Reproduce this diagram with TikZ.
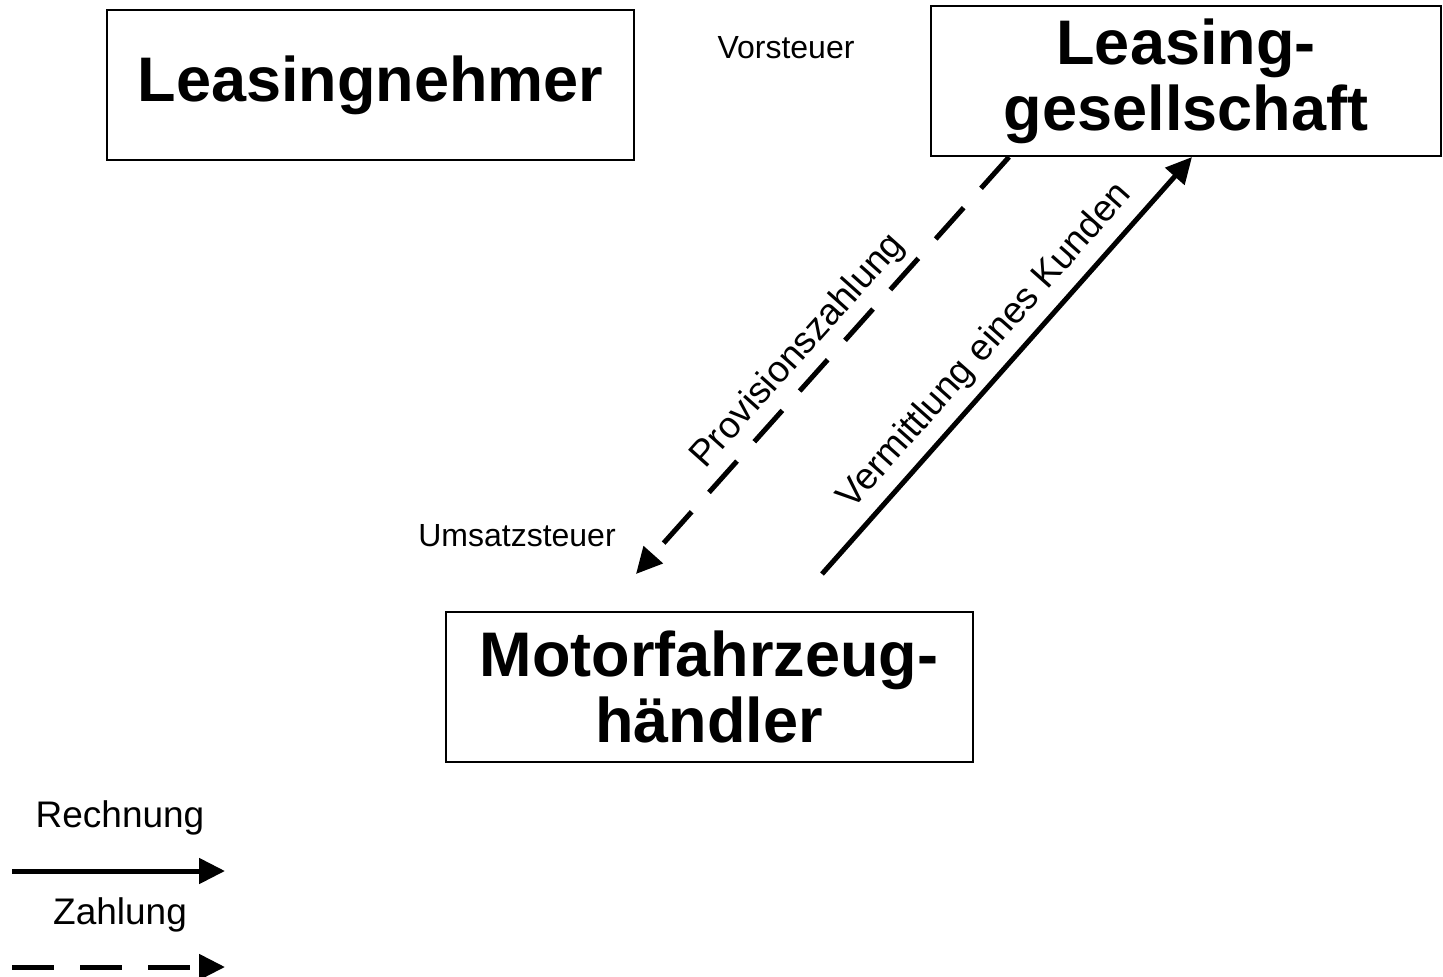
\documentclass[tikz,border=0pt]{standalone}
\usepackage{fontspec}
\setmainfont{Liberation Sans}
\usetikzlibrary{positioning, calc, arrows.meta}

\begin{document}
\begin{tikzpicture}[x=1pt, y=-1pt]
\tikzset{
    partner/.style={
        draw=black,
        line width=2pt,
        minimum width=527pt,
        minimum height=150pt,
        inner sep=0pt,
        align=center,
        font=\fontsize{63}{66}\selectfont\bfseries,
    },
    steuer/.style={
        font=\fontsize{32}{36}\selectfont,
    },
    beschrift/.style={
        font=\fontsize{37}{40}\selectfont,
        inner sep=4pt,
    },
    rechnung/.style={
        line width=5pt,
        -{Triangle[length=26pt, width=25pt]},
    },
    zahlung/.style={
        rechnung,
        dash pattern=on 42pt off 26pt,
    },
}
    \useasboundingbox (0,0) rectangle (1443,977);

    \node[partner] (nehmer) at (370.5,85) {Leasingnehmer};
    \node[partner, minimum width=510pt] (gesell) at (1186,81) {Leasing-\\gesellschaft};
    \node[partner] (haendler) at (709,687) {Motorfahrzeug-\\händler};

    % free ends of the two arrows
    \coordinate (zahlStart) at ($(gesell.south west)+(79,0)$);
    \coordinate (zahlEnd) at (636,574);
    \coordinate (vermStart) at (822,574);
    \coordinate (vermEnd) at ($(gesell.south west)+(262,0)$);

    % arrows
    \draw[zahlung] (zahlStart) -- (zahlEnd);
    \draw[rechnung] (vermStart) -- node[beschrift, sloped, above, pos=.5, inner sep=9pt] {Vermittlung eines Kunden} (vermEnd);
    \path (zahlEnd) -- node[beschrift, sloped, above, pos=.49, inner sep=10pt] {Provisionszahlung} (zahlStart);

    % tax labels
    \node[steuer] (vorst) at (786,48) {Vorsteuer};
    \node[steuer] (umst) at (517,536) {Umsatzsteuer};

    % legend
    \node[beschrift] (legR) at (120,818) {Rechnung};
    \coordinate (legRa) at (12,871);
    \coordinate (legRb) at (225,871);
    \draw[rechnung] (legRa) -- (legRb);

    \node[beschrift] (legZ) at (120,915) {Zahlung};
    \coordinate (legZa) at (12,967);
    \coordinate (legZb) at (225,967);
    \draw[zahlung] (legZa) -- (legZb);

\end{tikzpicture}
\end{document}
